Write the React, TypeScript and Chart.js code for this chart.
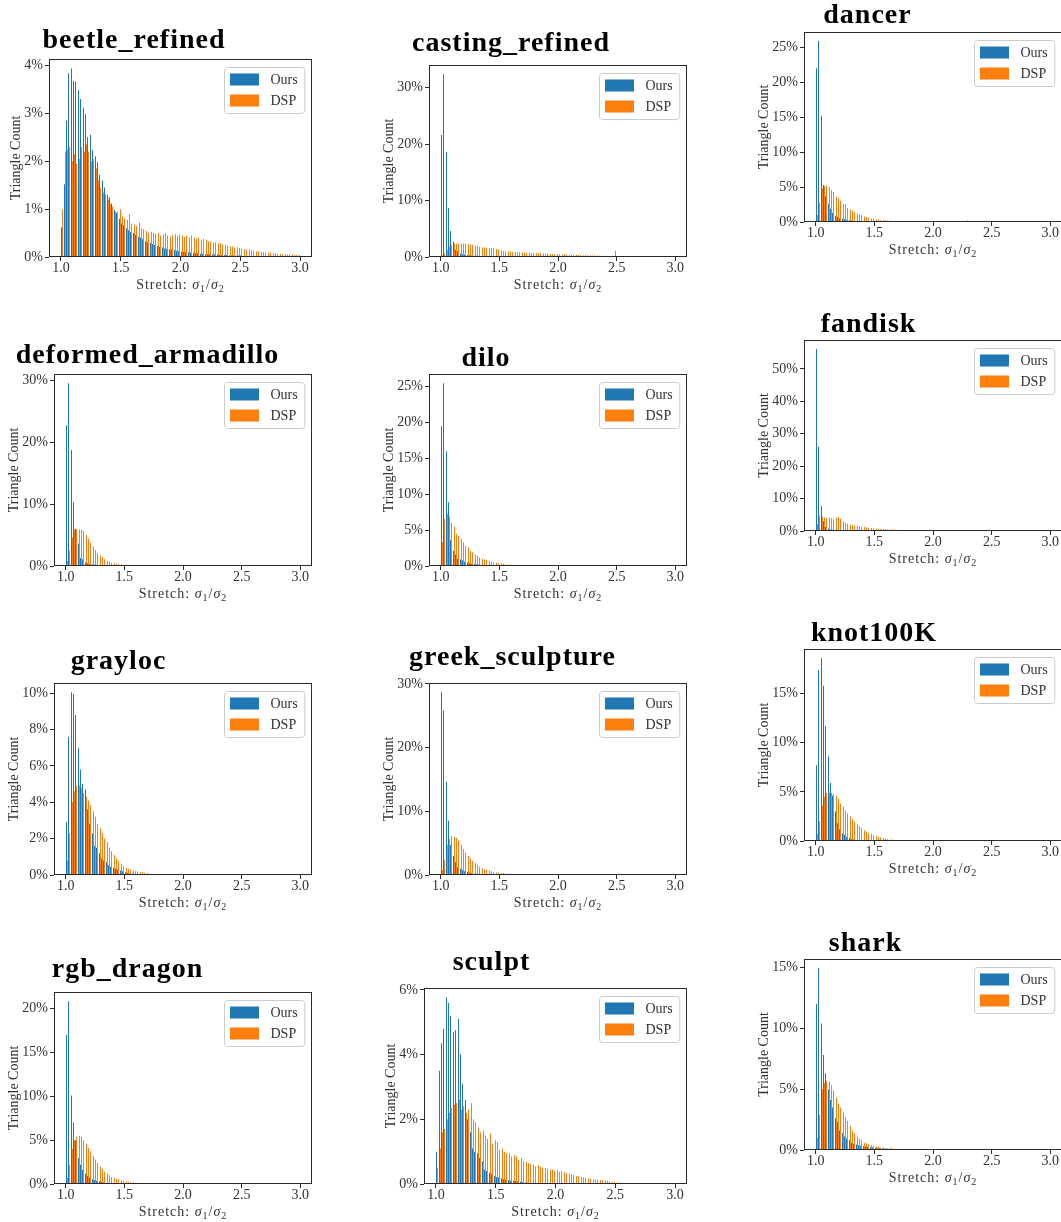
import React, { useEffect, useRef } from "react";
import { Chart, registerables } from "chart.js";

Chart.register(...registerables);

// ---------- axis / binning settings ----------
const BIN_START = 1.0;
const BIN_WIDTH = 0.02;
const X_MIN = 0.9;
const X_MAX = 3.1;
const X_TICKS = [1.0, 1.5, 2.0, 2.5, 3.0];
const SERIES_LABELS = ["Ours", "DSP"];
const SERIES_COLORS = ["#1f77b4", "#ff7f0e"];

// ---------- data (percent of triangles per bin, bins of 0.02 from 1.0) ----------
const beetleOurs = [
  0.62, 1.52, 2.85, 3.84, 3.94, 3.68, 3.66, 3.49, 3.3, 3.12,
  2.98, 2.5, 2.55, 2.23, 2.1, 1.98, 1.72, 1.6, 1.45, 1.3,
  1.25, 1.12, 0.98, 0.92, 0.8, 0.7, 0.66, 0.6, 0.56, 0.52,
  0.5, 0.46, 0.42, 0.4, 0.37, 0.33, 0.31, 0.29, 0.27, 0.25,
  0.23, 0.21, 0.2, 0.18, 0.17, 0.16, 0.15, 0.14, 0.13, 0.12,
  0.11, 0.11, 0.1, 0.1, 0.09, 0.09, 0.08, 0.08, 0.07, 0.07,
  0.06, 0.06, 0.06, 0.05, 0.05, 0.05, 0.04, 0.04, 0.04, 0.04,
  0.03, 0.03, 0.03, 0.03, 0.03, 0.03, 0.02, 0.02, 0.02, 0.02,
  0.02, 0.02, 0.02, 0.02, 0.02, 0.01, 0.01, 0.01, 0.01, 0.01,
  0.01, 0.01, 0.01, 0.01, 0.01, 0.01, 0.01, 0.01, 0.01, 0.01,
];
const beetleDsp = [
  1.0, 2.2, 2.25, 2.3, 2.0, 2.15, 1.95, 2.05, 2.3, 2.2,
  2.35, 2.2, 2.0, 2.05, 1.85, 1.6, 1.45, 1.35, 1.3, 1.2,
  1.1, 1.05, 0.95, 0.95, 1.0, 0.85, 0.8, 0.78, 0.9, 0.7,
  0.68, 0.65, 0.72, 0.6, 0.58, 0.55, 0.5, 0.52, 0.5, 0.48,
  0.5, 0.45, 0.47, 0.5, 0.45, 0.43, 0.46, 0.48, 0.44, 0.47,
  0.45, 0.42, 0.44, 0.4, 0.45, 0.41, 0.38, 0.4, 0.36, 0.38,
  0.35, 0.33, 0.32, 0.3, 0.31, 0.28, 0.29, 0.26, 0.25, 0.24,
  0.22, 0.22, 0.2, 0.2, 0.19, 0.17, 0.16, 0.15, 0.16, 0.14,
  0.13, 0.12, 0.12, 0.11, 0.1, 0.1, 0.09, 0.09, 0.08, 0.08,
  0.07, 0.07, 0.06, 0.06, 0.05, 0.05, 0.05, 0.04, 0.04, 0.04,
];
const beetleTicks = [0, 1, 2, 3, 4];

const castingOurs = [
  21.6, 32.4, 18.6, 8.7, 4.6, 2.7, 1.3, 1.0, 0.6, 0.5,
  0.45, 0.35, 0.3, 0.25, 0.2, 0.2, 0.15, 0.15, 0.12, 0.1,
  0.1, 0.08, 0.08, 0.06, 0.06, 0.05, 0.05, 0.04, 0.04, 0.03,
  0.03, 0.03, 0.02, 0.02, 0.02,
];
const castingDsp = [
  0.3, 0.7, 1.2, 1.8, 2.1, 2.35, 2.4, 2.4, 2.4, 2.4,
  2.4, 2.3, 2.2, 2.15, 2.0, 1.95, 1.75, 1.7, 1.7, 1.65,
  1.65, 1.6, 1.55, 1.45, 1.35, 1.1, 1.05, 1.0, 1.0, 0.95,
  0.9, 0.9, 0.85, 0.85, 0.8, 0.8, 0.75, 0.75, 0.75, 0.7,
  0.7, 0.65, 0.65, 0.62, 0.6, 0.58, 0.55, 0.55, 0.5, 0.5,
  0.48, 0.45, 0.45, 0.42, 0.4, 0.4, 0.38, 0.35, 0.35, 0.33,
  0.32, 0.3, 0.3, 0.28, 0.27, 0.26, 0.25, 0.23, 0.22, 0.2,
  0.18, 0.15, 0.05, 0.03, 1.1,
];
const castingTicks = [0, 10, 20, 30];

const dancerOurs = [
  22.0, 25.9, 15.2, 5.3, 3.7, 2.6, 1.9, 1.3, 0.9, 0.7,
  0.55, 0.45, 0.38, 0.32, 0.27, 0.22, 0.18, 0.15, 0.12, 0.1,
  0.08, 0.07, 0.06, 0.05, 0.04, 0.03, 0.03, 0.02, 0.02, 0.02,
];
const dancerDsp = [
  1.0, 2.8, 4.8, 5.2, 5.2, 5.0, 4.6, 4.3, 3.6, 3.4,
  3.0, 2.6, 2.5, 2.0, 1.8, 1.6, 1.4, 1.2, 1.1, 1.0,
  0.8, 0.7, 0.6, 0.5, 0.45, 0.4, 0.35, 0.3, 0.3, 0.25,
  0.2, 0.2, 0.15, 0.1, 0.05, 0.04, 0.03, 0.03, 0.02, 0.02,
  0, 0, 0, 0, 0, 0, 0, 0, 0, 0,
  0, 0, 0, 0, 0, 0, 0, 0, 0, 0,
  0, 0, 0, 0, 0.25,
];
const dancerTicks = [0, 5, 10, 15, 20, 25];

const armadilloOurs = [
  22.7, 29.5, 18.7, 10.3, 6.0, 3.6, 1.3, 1.1, 0.6, 0.45,
  0.35, 0.3, 0.2, 0.2, 0.15, 0.1, 0.08, 0.06, 0.05, 0.04,
  0.03, 0.02,
];
const armadilloDsp = [
  0.8, 2.5, 4.6, 5.9, 5.9, 5.9, 5.9, 5.7, 5.0, 4.4,
  3.7, 3.1, 2.6, 2.1, 1.7, 1.4, 1.1, 0.8, 0.7, 0.5,
  0.45, 0.35, 0.3, 0.3, 0.2, 0.2, 0.15, 0.1, 0.05, 0.03,
];
const armadilloTicks = [0, 10, 20, 30];

const diloOurs = [
  19.5, 25.5, 16.0, 8.9, 3.6, 2.1, 1.6, 1.0, 0.9, 0.8,
  0.6, 0.5, 0.4, 0.3, 0.3, 0.25, 0.2, 0.15, 0.12, 0.1,
  0.08, 0.06, 0.05, 0.04, 0.03, 0.02,
];
const diloDsp = [
  3.3, 6.6, 7.3, 6.9, 6.0, 5.5, 4.5, 4.2, 3.8, 3.3,
  2.8, 2.6, 2.1, 1.9, 1.6, 1.4, 1.2, 1.0, 0.9, 0.8,
  0.7, 0.6, 0.5, 0.45, 0.4, 0.35, 0.3, 0.25, 0.2, 0.2,
  0.15, 0.05, 0.03,
];
const diloTicks = [0, 5, 10, 15, 20, 25];

const fandiskOurs = [
  56.1, 26.0, 7.6, 3.0, 1.2, 0.8, 0.5, 0.4, 0.3, 0.25,
  0.2, 0.15, 0.12, 0.1, 0.08, 0.06, 0.05, 0.04, 0.03, 0.02,
];
const fandiskDsp = [
  2.2, 4.8, 4.4, 4.2, 4.0, 4.2, 3.9, 3.6, 4.1, 4.3,
  3.8, 3.0, 2.5, 2.2, 2.0, 1.9, 1.7, 1.6, 1.5, 1.3,
  1.2, 1.1, 1.0, 0.9, 0.8, 0.7, 0.7, 0.65, 0.6, 0.6,
  0.55, 0.5, 0.5, 0.45, 0.4, 0.4, 0.35, 0.3, 0.05, 0.03,
  0.02, 0.02, 0.02, 0.02, 0.02, 0.3, 0.02, 0.02, 0.35,
];
const fandiskTicks = [0, 10, 20, 30, 40, 50];

const graylocOurs = [
  2.9, 7.6, 10.05, 9.95, 8.8, 7.0, 5.8, 5.0, 4.7, 3.6,
  2.8, 2.3, 1.6, 1.5, 1.2, 0.9, 0.8, 0.7, 0.55, 0.45,
  0.4, 0.35, 0.3, 0.25, 0.2, 0.15, 0.12, 0.1, 0.08, 0.05,
  0.04, 0.03, 0.02,
];
const graylocDsp = [
  0.8, 2.3, 4.0, 4.6, 4.9, 4.9, 4.8, 4.5, 4.3, 4.1,
  3.8, 3.5, 3.2, 2.8, 2.6, 2.3, 2.0, 1.8, 1.5, 1.3,
  1.1, 0.9, 0.8, 0.6, 0.5, 0.4, 0.35, 0.3, 0.25, 0.2,
  0.2, 0.15, 0.15, 0.12, 0.1, 0.08, 0.05, 0.03,
];
const graylocTicks = [0, 2, 4, 6, 8, 10];

const greekOurs = [
  28.7, 25.8, 14.6, 8.5, 4.7, 3.0, 2.0, 1.2, 1.0, 0.8,
  0.6, 0.5, 0.4, 0.3, 0.25, 0.2, 0.15, 0.1, 0.08, 0.06,
  0.05, 0.04, 0.03, 0.02,
];
const greekDsp = [
  0.8, 2.3, 4.8, 5.6, 6.1, 6.0, 5.8, 5.4, 4.7, 4.1,
  3.5, 3.0, 2.6, 2.2, 1.9, 1.6, 1.3, 1.1, 0.9, 0.8,
  0.7, 0.55, 0.45, 0.4, 0.35, 0.3, 0.3, 0.25, 0.2, 0.2,
  0.2, 0.15, 0.05, 0.03,
];
const greekTicks = [0, 10, 20, 30];

const knotOurs = [
  7.7, 17.4, 18.6, 15.8, 11.7, 8.6, 5.9, 4.6, 3.0, 1.8,
  1.2, 0.8, 0.6, 0.4, 0.3, 0.2, 0.15, 0.1, 0.08, 0.06,
  0.05, 0.04, 0.03, 0.02,
];
const knotDsp = [
  0.7, 2.0, 3.6, 4.5, 4.9, 4.9, 4.9, 4.8, 4.6, 4.3,
  3.8, 3.5, 3.1, 2.8, 2.5, 2.2, 1.95, 1.7, 1.5, 1.3,
  1.1, 0.95, 0.8, 0.7, 0.6, 0.5, 0.4, 0.35, 0.3, 0.25,
  0.2, 0.15, 0.12, 0.1, 0.08, 0.06, 0.05, 0.03, 0.02,
];
const knotTicks = [0, 5, 10, 15];

const dragonOurs = [
  17.0, 20.85, 10.1, 7.0, 5.0, 3.0, 2.2, 1.6, 1.2, 0.9,
  0.7, 0.55, 0.45, 0.35, 0.3, 0.25, 0.2, 0.15, 0.12, 0.1,
  0.08, 0.05, 0.04, 0.03, 0.02,
];
const dragonDsp = [
  0.7, 2.2, 4.0, 5.0, 5.4, 5.5, 5.4, 5.0, 4.6, 4.1,
  3.7, 3.2, 2.8, 2.4, 2.0, 1.7, 1.4, 1.2, 1.0, 0.8,
  0.7, 0.6, 0.5, 0.4, 0.35, 0.3, 0.25, 0.2, 0.2, 0.15,
  0.15, 0.12, 0.1, 0.1, 0.08, 0.04, 0.03,
];
const dragonTicks = [0, 5, 10, 15, 20];

const sculptOurs = [
  1.0, 3.5, 4.35, 4.8, 5.77, 5.6, 5.2, 4.7, 4.75, 5.1,
  4.0, 3.1, 2.6, 2.0, 1.6, 1.1, 1.0, 0.95, 0.8, 0.7,
  0.45, 0.4, 0.35, 0.3, 0.25, 0.22, 0.2, 0.18, 0.15, 0.14,
  0.12, 0.1, 0.1, 0.09, 0.08, 0.07, 0.06, 0.05, 0.05, 0.04,
  0.04, 0.03, 0.03, 0.03, 0.02, 0.02, 0.02, 0.02, 0.01, 0.01,
];
const sculptDsp = [
  0.5, 1.1, 1.6, 1.7, 2.0, 2.2, 2.35, 2.45, 2.5, 2.6,
  2.3, 2.4, 2.2, 2.3, 2.5, 2.0, 1.9, 1.75, 1.6, 1.65,
  1.5, 1.4, 1.55, 1.25, 1.35, 1.3, 1.05, 1.1, 1.0, 0.95,
  0.95, 0.85, 0.9, 0.85, 0.75, 0.8, 0.7, 0.68, 0.65, 0.62,
  0.6, 0.55, 0.58, 0.55, 0.5, 0.5, 0.48, 0.45, 0.45, 0.42,
  0.44, 0.38, 0.4, 0.36, 0.34, 0.32, 0.3, 0.28, 0.25, 0.24,
  0.22, 0.2, 0.19, 0.17, 0.16, 0.15, 0.14, 0.13, 0.12, 0.12,
  0.11, 0.09, 0.08, 0.07, 0.06, 0.05, 0.05, 0.04, 0.03, 0.03,
  0.02, 0.02, 0.01,
];
const sculptTicks = [0, 2, 4, 6];

const sharkOurs = [
  12.0, 14.95, 10.4, 7.8, 6.3, 5.0, 4.1, 3.5, 2.6, 2.3,
  1.6, 1.4, 1.1, 0.95, 0.8, 0.6, 0.5, 0.45, 0.4, 0.35,
  0.3, 0.3, 0.25, 0.22, 0.2, 0.18, 0.15, 0.15, 0.14, 0.12,
  0.1, 0.12, 0.1, 0.09, 0.08, 0.08, 0.07, 0.07, 0.06, 0.06,
  0.05, 0.05, 0.05, 0.04, 0.04, 0.04, 0.03, 0.03, 0.03, 0.03,
  0.03, 0.02, 0.03, 0.02, 0.02, 0.02, 0.02, 0.02,
];
const sharkDsp = [
  1.0, 2.9, 5.0, 5.5, 5.7, 5.6, 5.3, 4.9, 4.3, 3.8,
  3.5, 3.1, 2.7, 2.4, 2.0, 1.6, 1.4, 1.1, 0.9, 0.8,
  0.6, 0.55, 0.45, 0.4, 0.35, 0.3, 0.25, 0.2, 0.2, 0.15,
  0.15, 0.12, 0.1, 0.1, 0.08, 0.08, 0.06, 0.05, 0.04, 0.04,
  0.03, 0.03, 0.02, 0.02, 0.02,
];
const sharkTicks = [0, 5, 10, 15];

const PANELS = [
  { title: "beetle_refined", ours: beetleOurs, dsp: beetleDsp, yTicks: beetleTicks },
  { title: "casting_refined", ours: castingOurs, dsp: castingDsp, yTicks: castingTicks },
  { title: "dancer", ours: dancerOurs, dsp: dancerDsp, yTicks: dancerTicks },
  { title: "deformed_armadillo", ours: armadilloOurs, dsp: armadilloDsp, yTicks: armadilloTicks },
  { title: "dilo", ours: diloOurs, dsp: diloDsp, yTicks: diloTicks },
  { title: "fandisk", ours: fandiskOurs, dsp: fandiskDsp, yTicks: fandiskTicks },
  { title: "grayloc", ours: graylocOurs, dsp: graylocDsp, yTicks: graylocTicks },
  { title: "greek_sculpture", ours: greekOurs, dsp: greekDsp, yTicks: greekTicks },
  { title: "knot100K", ours: knotOurs, dsp: knotDsp, yTicks: knotTicks },
  { title: "rgb_dragon", ours: dragonOurs, dsp: dragonDsp, yTicks: dragonTicks },
  { title: "sculpt", ours: sculptOurs, dsp: sculptDsp, yTicks: sculptTicks },
  { title: "shark", ours: sharkOurs, dsp: sharkDsp, yTicks: sharkTicks },
];

// ---------- layout (page pixels): plot box and title placement ----------
const LAYOUT = [
  { l: 49, t: 59, r: 312, b: 256.5, cx: 134, base: 48 },
  { l: 429, t: 65, r: 687, b: 257, cx: 511, base: 51 },
  { l: 804, t: 32, r: 1062, b: 222.3, cx: 867.5, base: 23 },
  { l: 54, t: 374, r: 312, b: 566, cx: 147.5, base: 363 },
  { l: 429, t: 374, r: 687, b: 566, cx: 486, base: 366 },
  { l: 804, t: 340, r: 1062, b: 531, cx: 868.5, base: 332 },
  { l: 54, t: 683, r: 312, b: 875, cx: 118.5, base: 669 },
  { l: 429, t: 683, r: 687, b: 875, cx: 512.5, base: 665 },
  { l: 804, t: 649, r: 1062, b: 841, cx: 874, base: 641 },
  { l: 54, t: 992, r: 312, b: 1184, cx: 127.5, base: 977 },
  { l: 424, t: 988, r: 687, b: 1184, cx: 491.5, base: 970 },
  { l: 804, t: 959, r: 1062, b: 1150, cx: 865.5, base: 951 },
];

const FF = '"Liberation Serif", "Times New Roman", serif';
const TEXT_COLOR = "#333333";
const YW = 60;
const PAD_T = 14;
const PAD_R = 12;
const XH = 44;

function roundRectPath(ctx: CanvasRenderingContext2D, x: number, y: number, w: number, h: number, r: number) {
  ctx.beginPath();
  ctx.moveTo(x + r, y);
  ctx.lineTo(x + w - r, y);
  ctx.arcTo(x + w, y, x + w, y + r, r);
  ctx.lineTo(x + w, y + h - r);
  ctx.arcTo(x + w, y + h, x + w - r, y + h, r);
  ctx.lineTo(x + r, y + h);
  ctx.arcTo(x, y + h, x, y + h - r, r);
  ctx.lineTo(x, y + r);
  ctx.arcTo(x, y, x + r, y, r);
  ctx.closePath();
}

// snap the library-computed bar positions to whole pixels (like matplotlib's snapping)
const snapPlugin = {
  id: "snapBars",
  beforeDatasetsDraw(chart: any) {
    chart.data.datasets.forEach((_: any, di: number) => {
      const meta = chart.getDatasetMeta(di);
      meta.data.forEach((el: any) => {
        el.x = Math.floor(el.x) + 0.5;
        el.width = 1;
      });
    });
  },
};

function makeDecor(yTicks: number[]) {
  return {
    id: "decor",
    afterDraw(chart: any) {
      const ctx = chart.ctx as CanvasRenderingContext2D;
      const a = chart.chartArea;
      ctx.save();
      // frame (all four spines)
      const L = Math.round(a.left) + 0.5;
      const T = Math.round(a.top) + 0.5;
      const R = Math.round(a.right) - 0.5;
      const B = Math.round(a.bottom) - 0.5;
      ctx.strokeStyle = "#2a2a2a";
      ctx.lineWidth = 1;
      ctx.strokeRect(L, T, R - L, B - T);

      // legend
      ctx.font = `14px ${FF}`;
      const tw = Math.max(...SERIES_LABELS.map((s) => ctx.measureText(s).width));
      const w = 6 + 29 + 11 + tw + 7;
      const h = 46;
      const x0 = Math.round(a.right - 8 - w) + 0.5;
      const y0 = Math.round(a.top + 8) + 0.5;
      roundRectPath(ctx, x0, y0, w, h, 3);
      ctx.fillStyle = "rgba(255,255,255,0.8)";
      ctx.fill();
      ctx.strokeStyle = "#cccccc";
      ctx.lineWidth = 1;
      ctx.stroke();
      SERIES_LABELS.forEach((s, k) => {
        const cy = y0 + 12 + k * 21;
        ctx.fillStyle = SERIES_COLORS[k];
        ctx.fillRect(x0 + 5.5, cy - 6, 29, 12);
        ctx.fillStyle = TEXT_COLOR;
        ctx.textAlign = "left";
        ctx.textBaseline = "middle";
        ctx.fillText(s, x0 + 6 + 29 + 11, cy + 0.5);
      });

      // x-axis title: Stretch: σ1/σ2
      const parts = [
        { t: "Stretch: ", f: `14px ${FF}`, dy: 0, w: 0 },
        { t: "σ", f: `italic 14px ${FF}`, dy: 0, w: 0 },
        { t: "1", f: `10px ${FF}`, dy: 3, w: 0 },
        { t: "/", f: `14px ${FF}`, dy: 0, w: 0 },
        { t: "σ", f: `italic 14px ${FF}`, dy: 0, w: 0 },
        { t: "2", f: `10px ${FF}`, dy: 3, w: 0 },
      ];
      (ctx as any).letterSpacing = "1px";
      let total = 0;
      parts.forEach((p) => {
        ctx.font = p.f;
        p.w = ctx.measureText(p.t).width;
        total += p.w;
      });
      let x = (a.left + a.right) / 2 - total / 2;
      const base = a.bottom + 31.5;
      ctx.fillStyle = TEXT_COLOR;
      ctx.textAlign = "left";
      ctx.textBaseline = "alphabetic";
      parts.forEach((p) => {
        ctx.font = p.f;
        ctx.fillText(p.t, x, base + p.dy);
        x += p.w;
      });
      (ctx as any).letterSpacing = "0px";

      // y-axis title
      ctx.font = `14px ${FF}`;
      const lw = Math.max(...yTicks.map((v) => ctx.measureText(`${v}%`).width));
      const tx = a.left - 6 - lw - 8.5;
      ctx.translate(tx, (a.top + a.bottom) / 2);
      ctx.rotate(-Math.PI / 2);
      ctx.textAlign = "center";
      ctx.textBaseline = "middle";
      ctx.fillText("Triangle Count", 0, 0);
      ctx.restore();
    },
  };
}

type PanelData = { title: string; ours: number[]; dsp: number[]; yTicks: number[] };
type Box = { l: number; t: number; r: number; b: number; cx: number; base: number };

function Panel({ panel, box }: { panel: PanelData; box: Box }) {
  const ref = useRef<HTMLCanvasElement>(null);
  const left = box.l - YW;
  const top = Math.round(box.t) - PAD_T;
  const width = YW + (box.r - box.l) + PAD_R;
  const height = Math.round(PAD_T + (box.b - box.t) + XH);

  useEffect(() => {
    if (!ref.current) return;
    const yMax = Math.max(...panel.ours, ...panel.dsp) * 1.05;
    const toPoints = (vals: number[]) =>
      vals.map((v, i) => ({ x: BIN_START + BIN_WIDTH * (i + 0.5), y: v }));
    const tickFont = { family: FF, size: 14, lineHeight: 1 };
    const barStyle = {
      borderWidth: 0,
      barThickness: 1,
      inflateAmount: 0,
    };
    const chart = new Chart(ref.current, {
      type: "bar",
      data: {
        datasets: [
          {
            label: SERIES_LABELS[0],
            data: toPoints(panel.ours),
            backgroundColor: SERIES_COLORS[0],
            ...barStyle,
          },
          {
            label: SERIES_LABELS[1],
            data: toPoints(panel.dsp),
            backgroundColor: SERIES_COLORS[1],
            ...barStyle,
          },
        ],
      } as any,
      options: {
        responsive: false,
        animation: false,
        events: [],
        layout: { padding: { top: PAD_T, right: PAD_R, left: 0, bottom: 0 } },
        plugins: {
          legend: { display: false },
          tooltip: { enabled: false },
          title: { display: false },
        },
        scales: {
          x: {
            type: "linear",
            min: X_MIN,
            max: X_MAX,
            offset: false,
            afterBuildTicks: (s: any) => {
              s.ticks = X_TICKS.map((v) => ({ value: v }));
            },
            afterFit: (s: any) => {
              s.height = XH;
            },
            ticks: {
              autoSkip: false,
              maxRotation: 0,
              padding: 0,
              color: TEXT_COLOR,
              font: tickFont,
              callback: (v: any) => Number(v).toFixed(1),
            },
            grid: {
              offset: false,
              drawOnChartArea: false,
              drawTicks: true,
              tickLength: 4,
              color: "#2a2a2a",
              lineWidth: 1,
            },
            border: { display: false },
          },
          y: {
            type: "linear",
            min: 0,
            max: yMax,
            afterBuildTicks: (s: any) => {
              s.ticks = panel.yTicks.map((v) => ({ value: v }));
            },
            afterFit: (s: any) => {
              s.width = YW;
            },
            ticks: {
              autoSkip: false,
              padding: 2,
              color: TEXT_COLOR,
              font: tickFont,
              callback: (v: any) => `${v}%`,
            },
            grid: {
              drawOnChartArea: false,
              drawTicks: true,
              tickLength: 4,
              color: "#2a2a2a",
              lineWidth: 1,
            },
            border: { display: false },
          },
        },
      } as any,
      plugins: [snapPlugin, makeDecor(panel.yTicks)],
    });
    return () => chart.destroy();
  }, []);

  return (
    <canvas
      ref={ref}
      width={width}
      height={height}
      style={{ position: "absolute", left, top, width, height }}
    />
  );
}

export default function App() {
  return (
    <div
      style={{
        position: "absolute",
        left: 0,
        top: 0,
        width: 1061,
        height: 1222,
        overflow: "hidden",
        background: "#ffffff",
      }}
    >
      {PANELS.map((p, i) => (
        <Panel key={p.title} panel={p} box={LAYOUT[i]} />
      ))}
      {PANELS.map((p, i) => (
        <div
          key={"title-" + p.title}
          style={{
            position: "absolute",
            left: LAYOUT[i].cx - 200,
            width: 400,
            top: LAYOUT[i].base - 23.4,
            textAlign: "center",
            fontFamily: FF,
            fontWeight: "bold",
            fontSize: 28,
            lineHeight: "28px",
            letterSpacing: "1px",
            color: "#000000",
            whiteSpace: "nowrap",
          }}
        >
          {p.title}
        </div>
      ))}
    </div>
  );
}
